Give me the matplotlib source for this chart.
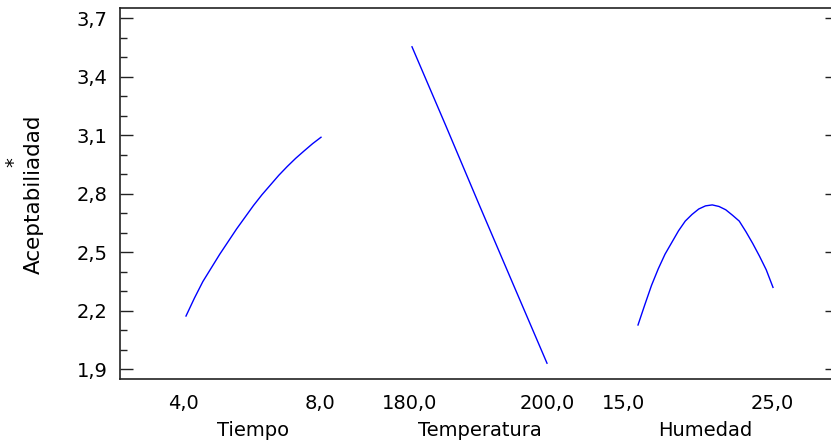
import numpy as np
import matplotlib.pyplot as plt
from matplotlib.ticker import MultipleLocator

plt.rcParams['font.family'] = ['DejaVu Sans']

# factor levels and effects
tiempo = [4.0, 4.25, 4.5, 4.75, 5.0, 5.25, 5.5, 5.75, 6.0, 6.25, 6.5, 6.75, 7.0, 7.25, 7.5, 7.75, 8.0]
acep_tiempo = [2.173, 2.265, 2.35, 2.42, 2.49, 2.555, 2.62, 2.68, 2.74, 2.795, 2.845,
               2.895, 2.94, 2.982, 3.02, 3.057, 3.09]

temperatura = [180.0, 185.0, 190.0, 195.0, 200.0]
acep_temperatura = [3.554, 3.15, 2.74, 2.335, 1.931]

humedad = [15.0, 15.5, 16.0, 16.5, 17.0, 17.5, 18.0, 18.5, 19.0, 19.5, 20.0,
           20.5, 21.0, 21.5, 22.0, 22.5, 23.0, 23.5, 24.0, 24.5, 25.0]
acep_humedad = [2.127, 2.23, 2.33, 2.415, 2.49, 2.55, 2.61, 2.66, 2.694, 2.722, 2.738,
                2.743, 2.735, 2.718, 2.69, 2.66, 2.605, 2.545, 2.48, 2.41, 2.32]

factores = ['Tiempo', 'Temperatura', 'Humedad']
series = [(tiempo, acep_tiempo), (temperatura, acep_temperatura), (humedad, acep_humedad)]
tick_text = ['4,0', '8,0', '180,0', '200,0', '15,0', '25,0']
y_ticks = [1.9, 2.2, 2.5, 2.8, 3.1, 3.4, 3.7]
y_text = ['1,9', '2,2', '2,5', '2,8', '3,1', '3,4', '3,7']

# layout (pixel positions along the x axis)
seg_start = [186, 412, 638]
seg_width = 135
tick_pos = [183.5, 320, 410, 547, 624, 772]

W, H = 831, 443
fig = plt.figure(figsize=(W / 100, H / 100), dpi=100)
ax = fig.add_axes([120 / W, 64 / H, 711 / W, 371 / H])

for (xv, yv), s in zip(series, seg_start):
    xv = np.array(xv)
    xp = s + (xv - xv[0]) / (xv[-1] - xv[0]) * seg_width
    ax.plot(xp, yv, color='#0000ff', lw=1.0)

ax.set_xlim(120, 831)
ax.set_ylim(1.85, 3.753)

ax.set_yticks(y_ticks)
ax.set_yticklabels(y_text, fontsize=14)
ax.yaxis.set_minor_locator(MultipleLocator(0.1))
ax.tick_params(axis='y', which='major', direction='in', length=9.5, width=1, pad=9,
               color='#222222')
ax.tick_params(axis='y', which='minor', direction='in', length=5, width=1, color='#222222')

ax.set_xticks(tick_pos)
ax.set_xticklabels(tick_text, fontsize=14)
ax.tick_params(axis='x', length=0, pad=11)

for sp in ['left', 'bottom', 'top']:
    ax.spines[sp].set_linewidth(1.2)
    ax.spines[sp].set_color('#222222')
ax.spines['right'].set_visible(False)

# short inward ticks on the right edge
ax2 = ax.twinx()
ax2.set_ylim(ax.get_ylim())
ax2.set_yticks(y_ticks)
ax2.set_yticklabels([])
ax2.tick_params(axis='y', direction='in', length=4, width=1, color='#222222')
for sp in ax2.spines.values():
    sp.set_visible(False)

for name, s in zip(factores, seg_start):
    fig.text((s + seg_width / 2) / W, 1 - 431 / H, name, ha='center', va='center', fontsize=14)

fig.text(34 / W, 1 - 194 / H, 'Aceptabiliadad', rotation=90, ha='center', va='center',
         fontsize=15.5)
fig.text(14 / W, 1 - 162 / H, '*', rotation=90, ha='center', va='center', fontsize=14)

fig.savefig('out.png', dpi=100)
